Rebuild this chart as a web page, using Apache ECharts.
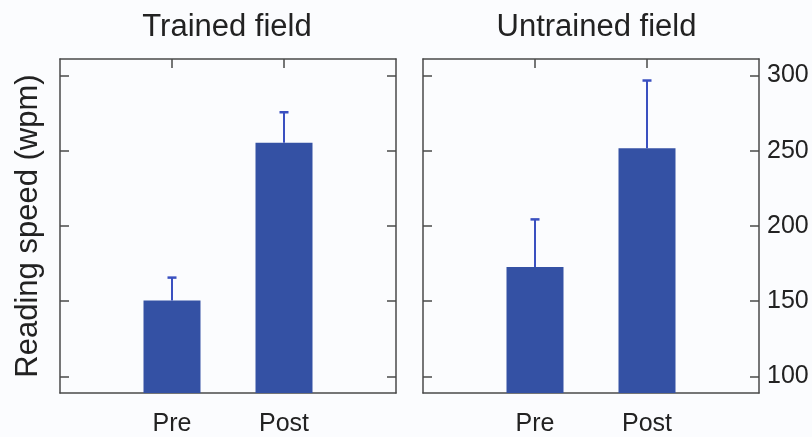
<!DOCTYPE html>
<html><head><meta charset="utf-8">
<script src="https://cdn.jsdelivr.net/npm/echarts@6/dist/echarts.min.js"></script>
<style>html,body{margin:0;padding:0;background:#fbfcfe}#c{width:812px;height:437px}</style>
</head><body><div id="c"></div>
<script>
const categories = ['Pre', 'Post'];
const panelTitles = ['Trained field', 'Untrained field'];
const trainedMean = [150.5, 255.3];
const trainedUpper = [165.7, 275.6];
const untrainedMean = [172.8, 251.6];
const untrainedUpper = [204.4, 296.7];
const yTicks = [100, 150, 200, 250, 300];
const yName = 'Reading speed (wpm)';

const FONT = '"Liberation Sans", Arial, Helvetica, sans-serif';
const AX = '#4a4a4a';
const BAR = '#3451a4';
const ERR = '#3a50c0';
const YMIN = 89, YMAX = 311;
const axisCats = [''].concat(categories, ['']);

const grids = [
  { left: 60, top: 59, width: 336, height: 335 },
  { left: 423, top: 59, width: 336, height: 335 }
];

const xAxes = [], yAxes = [], series = [];
const panels = [
  { mean: trainedMean, upper: trainedUpper },
  { mean: untrainedMean, upper: untrainedUpper }
];

function renderErr(params, api) {
  const x = api.value(0), lo = api.value(1), hi = api.value(2);
  const p0 = api.coord([x, lo]), p1 = api.coord([x, hi]);
  return { type: 'group', children: [
    { type: 'line', shape: { x1: p0[0], y1: p0[1], x2: p1[0], y2: p1[1] }, style: { stroke: ERR, lineWidth: 2 } },
    { type: 'line', shape: { x1: p1[0] - 4.5, y1: p1[1], x2: p1[0] + 4.5, y2: p1[1] }, style: { stroke: ERR, lineWidth: 2.5 } }
  ]};
}

panels.forEach((p, i) => {
  xAxes.push({
    gridIndex: i, type: 'category', data: axisCats, boundaryGap: false, position: 'bottom',
    axisLine: { lineStyle: { color: AX, width: 1.5 } },
    axisTick: { show: false },
    axisLabel: { interval: 0, fontSize: 25, color: '#222', fontFamily: FONT, margin: 19 },
    splitLine: { show: false }
  });
  xAxes.push({
    gridIndex: i, type: 'category', data: axisCats, boundaryGap: false, position: 'top',
    axisLine: { lineStyle: { color: AX, width: 1.5 } },
    axisTick: { inside: true, length: 9, interval: (idx) => idx === 1 || idx === 2, lineStyle: { color: AX, width: 1.5 } },
    axisLabel: { show: false },
    splitLine: { show: false }
  });
  yAxes.push({
    gridIndex: i, type: 'value', min: YMIN, max: YMAX, position: 'left',
    name: i === 0 ? yName : '', nameLocation: 'middle', nameGap: 16,
    nameTextStyle: { fontSize: 31, color: '#222', fontFamily: FONT },
    axisLine: { show: true, lineStyle: { color: AX, width: 1.5 } },
    axisTick: { show: true, inside: true, length: 9, customValues: yTicks, lineStyle: { color: AX, width: 1.5 } },
    axisLabel: { show: false },
    splitLine: { show: false }
  });
  yAxes.push({
    gridIndex: i, type: 'value', min: YMIN, max: YMAX, position: 'right',
    axisLine: { show: true, lineStyle: { color: AX, width: 1.5 } },
    axisTick: { show: true, inside: true, length: 9, customValues: yTicks, lineStyle: { color: AX, width: 1.5 } },
    axisLabel: { show: i === 1, customValues: yTicks, fontSize: 25, color: '#222', fontFamily: FONT, margin: 8 },
    splitLine: { show: false }
  });
  series.push({
    type: 'bar', xAxisIndex: 2 * i, yAxisIndex: 2 * i,
    data: [null].concat(p.mean, [null]),
    barWidth: 57, itemStyle: { color: BAR }, silent: true
  });
  series.push({
    type: 'custom', xAxisIndex: 2 * i, yAxisIndex: 2 * i, z: 5,
    renderItem: renderErr, encode: { x: 0, y: [1, 2] },
    data: p.mean.map((m, k) => [k + 1, m, p.upper[k]]), silent: true
  });
});

const chart = echarts.init(document.getElementById('c'), null, { renderer: 'canvas' });
chart.setOption({
  backgroundColor: '#fbfcfe',
  animation: false,
  grid: grids,
  xAxis: xAxes,
  yAxis: yAxes,
  series: series,
  graphic: [
    { type: 'text', x: 227, y: 27.5, style: { text: panelTitles[0], font: '31px ' + FONT, fill: '#222', textAlign: 'center', textVerticalAlign: 'middle' } },
    { type: 'text', x: 596.5, y: 27.5, style: { text: panelTitles[1], font: '31px ' + FONT, fill: '#222', textAlign: 'center', textVerticalAlign: 'middle' } }
  ]
});
</script></body></html>
